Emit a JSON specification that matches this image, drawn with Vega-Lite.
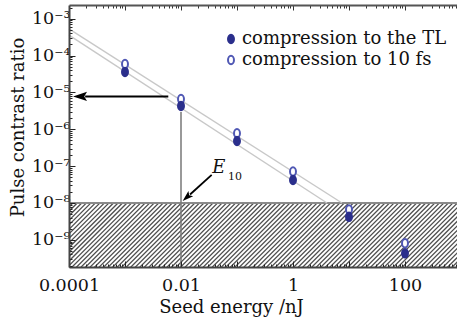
{
  "$schema": "https://vega.github.io/schema/vega-lite/v6.json",
  "width": 392,
  "height": 262,
  "autosize": {"type": "none"},
  "padding": {"left": 69, "top": 5, "right": 0, "bottom": 54},
  "config": {"view": {"stroke": null}, "font": "DejaVu Serif", "axis": {"grid": false}},
  "datasets": {
    "hatch": [{"x": 0.00061, "y": 1.6e-5, "x2": 139, "y2": 1.15e-13}],
    "mask": [{"x": 0.0001, "x2": 1000, "y": 1e-8, "y2": 0.00236}],
    "level": [{"y": 1e-8}],
    "vline": [{"x": 0.01, "y": 2.95e-6, "y2": 1.83e-10}],
    "fits": [
      {"x": 0.0001, "y": 0.00053, "g": "a"}, {"x": 7.5, "y": 1e-8, "g": "a"},
      {"x": 0.0001, "y": 0.00036, "g": "b"}, {"x": 4.05, "y": 1e-8, "g": "b"}
    ],
    "pts": [
      {"e": 0.001, "r": 5.9e-5, "s": "compression to 10 fs"},
      {"e": 0.01, "r": 6.6e-6, "s": "compression to 10 fs"},
      {"e": 0.1, "r": 7.8e-7, "s": "compression to 10 fs"},
      {"e": 1, "r": 7.1e-8, "s": "compression to 10 fs"},
      {"e": 10, "r": 6.7e-9, "s": "compression to 10 fs"},
      {"e": 100, "r": 8.1e-10, "s": "compression to 10 fs"},
      {"e": 0.001, "r": 3.6e-5, "s": "compression to the TL"},
      {"e": 0.01, "r": 4.3e-6, "s": "compression to the TL"},
      {"e": 0.1, "r": 4.8e-7, "s": "compression to the TL"},
      {"e": 1, "r": 4.2e-8, "s": "compression to the TL"},
      {"e": 10, "r": 4.2e-9, "s": "compression to the TL"},
      {"e": 100, "r": 4.3e-10, "s": "compression to the TL"}
    ],
    "harrow": [{"x": 0.00593, "y": 7.8e-6, "x2": 0.000194}],
    "hhead": [{"x": 0.000118, "y": 7.8e-6}],
    "earrow": [{"x": 0.0353, "y": 5.8e-8, "x2": 0.0145, "y2": 1.7e-8}],
    "ehead": [{"x": 0.0107, "y": 1.13e-8}],
    "etext": [{"x": 0.0362, "y": 6.4e-8, "t": "E"}],
    "esub": [{"x": 0.069, "y": 4.2e-8, "t": "10"}]
  },
  "resolve": {"axis": {"x": "independent", "y": "independent"}},
  "layer": [
    {
      "data": {"name": "hatch"},
      "mark": {"type": "rule", "clip": true, "strokeWidth": 400, "strokeDash": [1.3, 1.9], "color": "#505050"},
      "encoding": {
        "x": {"field": "x", "type": "quantitative",
          "scale": {"type": "log", "domain": [0.0001, 1000], "nice": false},
          "axis": {
            "zindex": 1,
            "values": [0.0001,0.0002,0.0003,0.0004,0.0005,0.0006,0.0007,0.0008,0.0009,0.001,0.002,0.003,0.004,0.005,0.006,0.007,0.008,0.009,0.01,0.02,0.03,0.04,0.05,0.06,0.07,0.08,0.09,0.1,0.2,0.3,0.4,0.5,0.6,0.7,0.8,0.9,1,2,3,4,5,6,7,8,9,10,20,30,40,50,60,70,80,90,100,200,300,400,500,600,700,800,900,1000],
            "labelExpr": "abs(log(datum.value)/LN10 - round(log(datum.value)/LN10)) < 0.01 ? ['0.0001','','0.01','','1','','100',''][round(log(datum.value)/LN10) + 4] : ''",
            "labelFont": "DejaVu Serif", "labelFontSize": 17.5, "labelColor": "#111111", "labelPadding": 15,
            "labelOverlap": false, "labelFlush": false,
            "tickSize": {"condition": {"test": "abs(log(datum.value)/LN10 - round(log(datum.value)/LN10)) < 0.01", "value": -6}, "value": -3},
            "tickColor": "#222222", "tickWidth": 1,
            "domainColor": "#444444", "domainWidth": 2,
            "title": "Seed energy /nJ", "titleFont": "DejaVu Serif", "titleFontSize": 18, "titleFontWeight": "normal", "titleColor": "#111111",
            "titleX": 162, "titleY": 45, "titleBaseline": "alphabetic", "titleAlign": "center", "titleAnchor": null
          }},
        "y": {"field": "y", "type": "quantitative",
          "scale": {"type": "log", "domain": [1.83e-10, 0.00236], "nice": false},
          "axis": {
            "zindex": 1,
            "values": [2e-10,3e-10,4e-10,5e-10,6e-10,7e-10,8e-10,9e-10,1e-9,2e-9,3e-9,4e-9,5e-9,6e-9,7e-9,8e-9,9e-9,1e-8,2e-8,3e-8,4e-8,5e-8,6e-8,7e-8,8e-8,9e-8,1e-7,2e-7,3e-7,4e-7,5e-7,6e-7,7e-7,8e-7,9e-7,1e-6,2e-6,3e-6,4e-6,5e-6,6e-6,7e-6,8e-6,9e-6,1e-5,2e-5,3e-5,4e-5,5e-5,6e-5,7e-5,8e-5,9e-5,1e-4,2e-4,3e-4,4e-4,5e-4,6e-4,7e-4,8e-4,9e-4,1e-3,2e-3],
            "labelExpr": "abs(log(datum.value)/LN10 - round(log(datum.value)/LN10)) < 0.01 ? ['10⁻³','10⁻⁴','10⁻⁵','10⁻⁶','10⁻⁷','10⁻⁸','10⁻⁹','10⁻¹⁰'][-round(log(datum.value)/LN10) - 3] : ''",
            "labelFont": "DejaVu Serif", "labelFontSize": 17.5, "labelColor": "#111111", "labelPadding": 5,
            "labelOverlap": false, "labelFlush": false,
            "tickSize": {"condition": {"test": "abs(log(datum.value)/LN10 - round(log(datum.value)/LN10)) < 0.01", "value": -6}, "value": -3},
            "tickColor": "#222222", "tickWidth": 1,
            "domainColor": "#444444", "domainWidth": 2,
            "title": "Pulse contrast ratio", "titleFont": "DejaVu Serif", "titleFontSize": 18, "titleFontWeight": "normal", "titleColor": "#111111",
            "titleAngle": -90, "titleX": -46, "titleY": 122, "titleBaseline": "alphabetic", "titleAlign": "center", "titleAnchor": null
          }},
        "x2": {"field": "x2"},
        "y2": {"field": "y2"}
      }
    },
    {
      "data": {"name": "mask"},
      "mark": {"type": "rect", "clip": true, "color": "#ffffff"},
      "encoding": {
        "x": {"field": "x", "type": "quantitative", "axis": null},
        "x2": {"field": "x2"},
        "y": {"field": "y", "type": "quantitative", "axis": null},
        "y2": {"field": "y2"}
      }
    },
    {
      "data": {"name": "level"},
      "mark": {"type": "rule", "color": "#8a8a8a", "strokeWidth": 2},
      "encoding": {"y": {"field": "y", "type": "quantitative", "axis": null}}
    },
    {
      "data": {"name": "vline"},
      "mark": {"type": "rule", "color": "#777777", "strokeWidth": 1.5},
      "encoding": {
        "x": {"field": "x", "type": "quantitative", "axis": null},
        "y": {"field": "y", "type": "quantitative", "axis": null},
        "y2": {"field": "y2"}
      }
    },
    {
      "data": {"name": "fits"},
      "mark": {"type": "line", "color": "#c8c8c8", "strokeWidth": 1.4},
      "encoding": {
        "x": {"field": "x", "type": "quantitative",
          "axis": {
            "orient": "top", "zindex": 1, "labels": false, "title": null,
            "values": [0.0002,0.0003,0.0004,0.0005,0.0006,0.0007,0.0008,0.0009,0.001,0.002,0.003,0.004,0.005,0.006,0.007,0.008,0.009,0.01,0.02,0.03,0.04,0.05,0.06,0.07,0.08,0.09,0.1,0.2,0.3,0.4,0.5,0.6,0.7,0.8,0.9,1,2,3,4,5,6,7,8,9,10,20,30,40,50,60,70,80,90,100,200,300,400,500,600,700,800,900],
            "tickSize": {"condition": {"test": "abs(log(datum.value)/LN10 - round(log(datum.value)/LN10)) < 0.01", "value": -5}, "value": -3},
            "tickColor": "#333333", "tickWidth": 1,
            "domainColor": "#555555", "domainWidth": 2
          }},
        "y": {"field": "y", "type": "quantitative", "axis": null},
        "detail": {"field": "g"}
      }
    },
    {
      "data": {"name": "pts"},
      "mark": {"type": "point", "shape": "M-0.7,0A0.7,1 0 1,1 0.7,0A0.7,1 0 1,1 -0.7,0Z", "size": 72, "strokeWidth": 2, "opacity": 1},
      "encoding": {
        "x": {"field": "e", "type": "quantitative", "axis": null},
        "y": {"field": "r", "type": "quantitative", "axis": null},
        "fill": {"field": "s", "type": "nominal",
          "scale": {"domain": ["compression to the TL", "compression to 10 fs"], "range": ["#2b2f8c", "#ffffff"]},
          "legend": {"orient": "none", "legendX": 153, "legendY": 25, "title": null, "padding": 0,
            "labelFont": "DejaVu Serif", "labelFontSize": 18, "labelColor": "#111111", "labelOffset": 2, "labelLimit": 400,
            "symbolType": "M-0.7,0A0.7,1 0 1,1 0.7,0A0.7,1 0 1,1 -0.7,0Z", "symbolSize": 72, "symbolStrokeWidth": 2, "rowPadding": 3}},
        "stroke": {"field": "s", "type": "nominal",
          "scale": {"domain": ["compression to the TL", "compression to 10 fs"], "range": ["#2b2f8c", "#5058b4"]},
          "legend": {"orient": "none", "legendX": 153, "legendY": 25, "title": null, "padding": 0,
            "labelFont": "DejaVu Serif", "labelFontSize": 18, "labelColor": "#111111", "labelOffset": 2, "labelLimit": 400,
            "symbolType": "M-0.7,0A0.7,1 0 1,1 0.7,0A0.7,1 0 1,1 -0.7,0Z", "symbolSize": 72, "symbolStrokeWidth": 2, "rowPadding": 3}}
      }
    },
    {
      "data": {"name": "harrow"},
      "mark": {"type": "rule", "color": "#000000", "strokeWidth": 2},
      "encoding": {
        "x": {"field": "x", "type": "quantitative", "axis": null},
        "x2": {"field": "x2"},
        "y": {"field": "y", "type": "quantitative", "axis": null}
      }
    },
    {
      "data": {"name": "hhead"},
      "mark": {"type": "point", "shape": "M0,0L-2,-0.65L-1.6,0L-2,0.65Z", "size": 196, "angle": 180, "filled": true, "color": "#000000", "opacity": 1},
      "encoding": {
        "x": {"field": "x", "type": "quantitative", "axis": null},
        "y": {"field": "y", "type": "quantitative", "axis": null}
      }
    },
    {
      "data": {"name": "earrow"},
      "mark": {"type": "rule", "color": "#000000", "strokeWidth": 1.8},
      "encoding": {
        "x": {"field": "x", "type": "quantitative", "axis": null},
        "x2": {"field": "x2"},
        "y": {"field": "y", "type": "quantitative", "axis": null},
        "y2": {"field": "y2"}
      }
    },
    {
      "data": {"name": "ehead"},
      "mark": {"type": "point", "shape": "M0,0L-2,-0.65L-1.6,0L-2,0.65Z", "size": 121, "angle": 138, "filled": true, "color": "#000000", "opacity": 1},
      "encoding": {
        "x": {"field": "x", "type": "quantitative", "axis": null},
        "y": {"field": "y", "type": "quantitative", "axis": null}
      }
    },
    {
      "data": {"name": "etext"},
      "mark": {"type": "text", "font": "DejaVu Serif", "fontStyle": "italic", "fontSize": 18, "align": "left", "baseline": "alphabetic", "color": "#111111"},
      "encoding": {
        "x": {"field": "x", "type": "quantitative", "axis": null},
        "y": {"field": "y", "type": "quantitative", "axis": null},
        "text": {"field": "t"}
      }
    },
    {
      "data": {"name": "esub"},
      "mark": {"type": "text", "font": "DejaVu Serif", "fontSize": 11, "align": "left", "baseline": "alphabetic", "color": "#111111"},
      "encoding": {
        "x": {"field": "x", "type": "quantitative", "axis": null},
        "y": {"field": "y", "type": "quantitative", "axis": null},
        "text": {"field": "t"}
      }
    }
  ]
}
